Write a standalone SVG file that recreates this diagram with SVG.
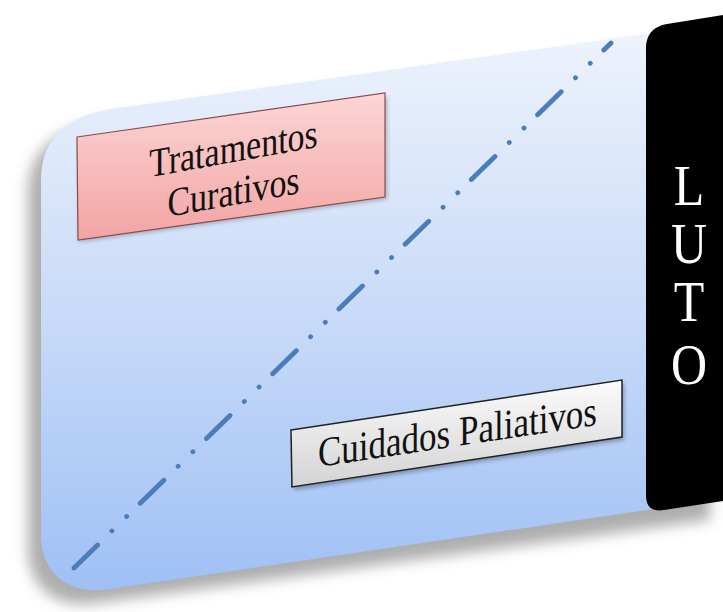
<svg xmlns="http://www.w3.org/2000/svg" width="723" height="612" viewBox="0 0 723 612">
  <style>
    .serif { font-family: "Liberation Serif", "Times New Roman", serif; }
    .lbl { font-size: 34px; fill: #111; text-anchor: middle; }
    .luto { font-size: 50px; fill: #ffffff; text-anchor: middle; }
    .timeline { fill: none; stroke: #4b7cbc; stroke-width: 4.8; stroke-linecap: round; stroke-dasharray: 33 20 0.01 20.6 0.01 19; }
  </style>
  <defs>
    <linearGradient id="cardGrad" gradientUnits="userSpaceOnUse" x1="0" y1="30" x2="0" y2="590">
      <stop offset="0" stop-color="#eef3fc"/>
      <stop offset="0.5" stop-color="#c9dbf8"/>
      <stop offset="1" stop-color="#9fc0f5"/>
    </linearGradient>
    <linearGradient id="pinkGrad" x1="0" y1="0" x2="0" y2="1">
      <stop offset="0" stop-color="#fcd6d5"/>
      <stop offset="1" stop-color="#f2a4a3"/>
    </linearGradient>
    <linearGradient id="greyGrad" x1="0" y1="0" x2="0" y2="1">
      <stop offset="0" stop-color="#fbfbfb"/>
      <stop offset="1" stop-color="#d3d3d3"/>
    </linearGradient>
    <filter id="softShadow" x="-20%" y="-20%" width="140%" height="140%">
      <feGaussianBlur stdDeviation="7"/>
    </filter>
    <filter id="boxShadow" x="-10%" y="-20%" width="120%" height="150%">
      <feGaussianBlur stdDeviation="2"/>
    </filter>
  </defs>

  <rect width="723" height="612" fill="#ffffff"/>

  <g id="card">
    <path d="M41,180 C41,135 72,112 125,107 L723,24 L723,506 L110,589 C65,596 41,570 41,535 Z" fill="#9a9a9a" opacity="0.8" transform="translate(-13,14)" filter="url(#softShadow)"/>
    <path d="M41,180 C41,135 72,112 125,107 L660,32 L660,508 L110,589 C65,596 41,570 41,535 Z" fill="url(#cardGrad)"/>
  </g>

  <g id="connectors">
    <path class="timeline" d="M74,568 L611,43"/>
  </g>

  <g id="node-tratamentos">
    <polygon points="79,242 387,199 387,97 79,141" fill="#000" opacity="0.25" filter="url(#boxShadow)"/>
    <polygon points="77,137 385,93 385,197 78,240" fill="url(#pinkGrad)" stroke="#8c4b4b" stroke-width="1.2"/>
    <text class="serif lbl" transform="matrix(1,-0.18,0,1.2,233.5,162)" x="0" y="0">Tratamentos</text>
    <text class="serif lbl" transform="matrix(1,-0.18,0,1.2,233.5,205)" x="0" y="0">Curativos</text>
  </g>

  <g id="node-cuidados">
    <polygon points="294,490 624,440 624,383 293,433" fill="#000" opacity="0.3" filter="url(#boxShadow)"/>
    <polygon points="291,430 622,380 622,437 292,487" fill="url(#greyGrad)" stroke="#222" stroke-width="1.5"/>
    <text class="serif lbl" style="font-size:35px" transform="matrix(1,-0.15,0,1.2,457.5,446)" x="0" y="0">Cuidados Paliativos</text>
  </g>

  <g id="node-luto">
    <path d="M646,50 C646,35 652,27 667,24 L723,15 L723,501 L664,510 C652,512 646,507 646,495 Z" fill="#000000"/>
    <text class="serif luto" transform="matrix(1,0,0,1.12,689,205)" x="0" y="0">L</text>
    <text class="serif luto" transform="matrix(1,0,0,1.12,689,263)" x="0" y="0">U</text>
    <text class="serif luto" transform="matrix(1,0,0,1.12,689,321)" x="0" y="0">T</text>
    <text class="serif luto" transform="matrix(1,0,0,1.12,689,384)" x="0" y="0">O</text>
  </g>
</svg>
